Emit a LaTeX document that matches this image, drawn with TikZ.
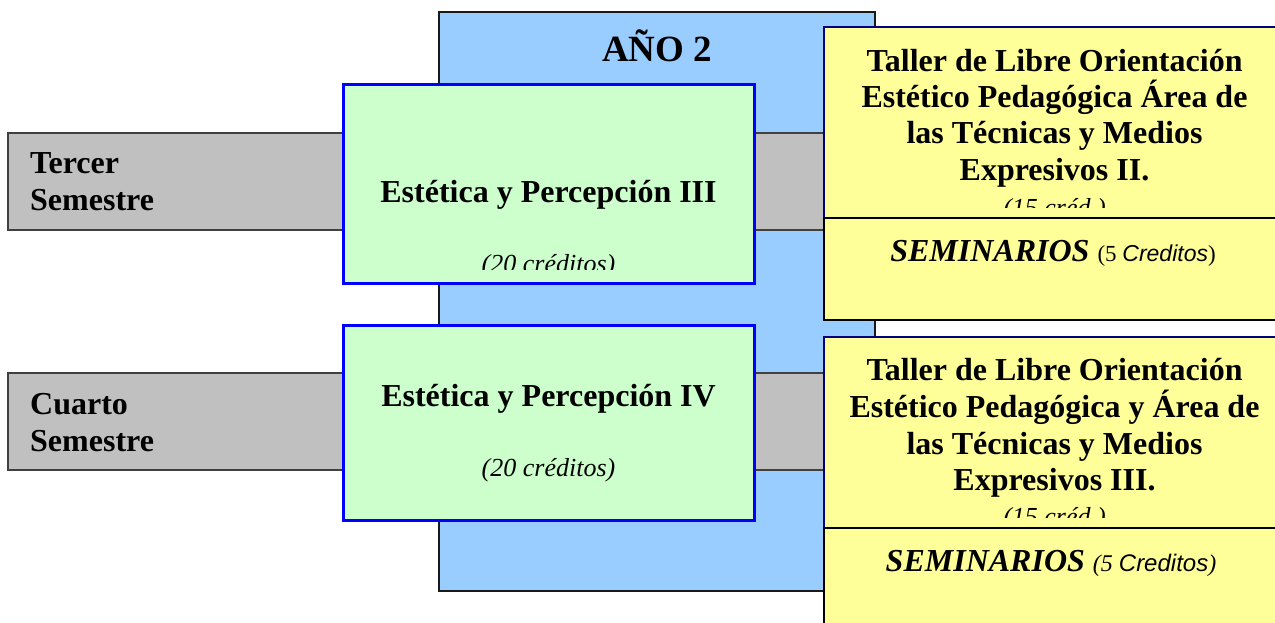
\documentclass[tikz,border=0pt]{standalone}
\usepackage{fontspec}
\setmainfont{Liberation Serif}
\setsansfont{Liberation Sans}
\definecolor{anofill}{HTML}{99CCFF}
\definecolor{semfill}{HTML}{C0C0C0}
\definecolor{semline}{HTML}{404040}
\definecolor{verdefill}{HTML}{CCFFCC}
\definecolor{verdeline}{HTML}{0000FF}
\definecolor{amarfill}{HTML}{FFFF99}
\definecolor{amarline}{HTML}{000080}
\newcommand\fbig{\fontsize{32}{36}\selectfont\bfseries}
\newcommand\fano{\fontsize{37}{40}\selectfont\bfseries}
\newcommand\fcred{\fontsize{26}{30}\selectfont\itshape}
\begin{document}
\begin{tikzpicture}[x=1pt,y=-1pt,
  anobox/.style={fill=anofill,draw=black!90,line width=2pt},
  sembar/.style={fill=semfill,draw=semline,line width=1.5pt},
  verdebox/.style={fill=verdefill,draw=verdeline,line width=3pt},
  amartop/.style={fill=amarfill,draw=amarline,line width=2.5pt},
  amarsem/.style={fill=amarfill,draw=black,line width=2.5pt},
  lbl/.style={inner sep=0pt,anchor=base},
  lblw/.style={inner sep=0pt,anchor=base west}]
\useasboundingbox (0,0) rectangle (1275,623);
\clip (0,0) rectangle (1275,623);
% year box
\draw[anobox] (439,12) rectangle (875,591);
\node[lbl,font=\fano] (ano) at (657,62) {AÑO 2};
% semester bars
\draw[sembar] (8,133) rectangle (826,230);
\draw[sembar] (8,373) rectangle (826,470);
\node[lblw,font=\fbig] (s3a) at (30,174) {Tercer};
\node[lblw,font=\fbig] (s3b) at (30,210.7) {Semestre};
\node[lblw,font=\fbig] (s4a) at (30,414.3) {Cuarto};
\node[lblw,font=\fbig] (s4b) at (30,451) {Semestre};
% green boxes
\draw[verdebox] (343,85) rectangle (754,283);
\node[lbl,font=\fbig] (ep3) at (548.5,202.7) {Estética y Percepción III};
\begin{scope}
\clip (343,85) rectangle (754,269.5);
\node[lbl,font=\fcred] (ep3c) at (548.5,272) {(20 créditos)};
\end{scope}
\draw[verdebox] (343,325) rectangle (754,520);
\node[lbl,font=\fbig] (ep4) at (548.5,406.7) {Estética y Percepción IV};
\node[lbl,font=\fcred] (ep4c) at (548.5,476) {(20 créditos)};
% yellow boxes, third semester
\draw[amartop] (824,27) rectangle (1285,218);
\node[lbl,font=\fbig] (ta1) at (1054.5,71.7) {Taller de Libre Orientación};
\node[lbl,font=\fbig] (ta2) at (1054.5,107.5) {Estético Pedagógica Área de};
\node[lbl,font=\fbig] (ta3) at (1054.5,144) {las Técnicas y Medios};
\node[lbl,font=\fbig] (ta4) at (1054.5,180.7) {Expresivos II.};
\begin{scope}
\clip (824,27) rectangle (1285,207.5);
\node[lbl,font=\fcred] (ta5) at (1054.5,216) {(15 créd.)};
\end{scope}
\draw[amarsem] (824,218) rectangle (1285,320);
\node[lbl] (se1) at (1053,261.7) {{\fbig\itshape SEMINARIOS }{\fontsize{23}{26}\selectfont (5 {\sffamily\itshape Creditos})}};
% yellow boxes, fourth semester
\draw[amartop] (824,337) rectangle (1285,528);
\node[lbl,font=\fbig] (tb1) at (1054.5,380.7) {Taller de Libre Orientación};
\node[lbl,font=\fbig] (tb2) at (1054.5,417) {Estético Pedagógica y Área de};
\node[lbl,font=\fbig] (tb3) at (1054.5,454) {las Técnicas y Medios};
\node[lbl,font=\fbig] (tb4) at (1054.5,490.7) {Expresivos III.};
\begin{scope}
\clip (824,337) rectangle (1285,517);
\node[lbl,font=\fcred] (tb5) at (1054.5,525.5) {(15 créd.)};
\end{scope}
\draw[amarsem] (824,528) rectangle (1285,640);
\node[lbl] (se2) at (1051,571.7) {{\fbig\itshape SEMINARIOS }{\fontsize{24}{27}\selectfont\itshape (5 {\sffamily Creditos})}};
\end{tikzpicture}
\end{document}
